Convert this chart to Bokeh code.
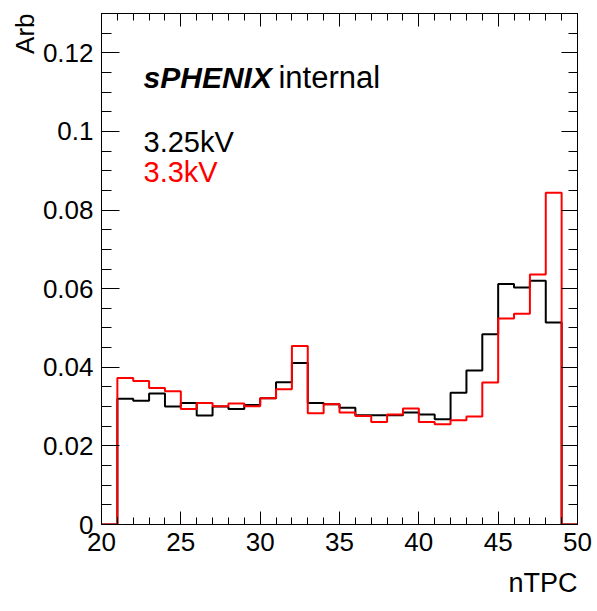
from bokeh.plotting import figure
from bokeh.models import Range1d, LinearAxis, SingleIntervalTicker, Label, Title, CustomJSTickFormatter
from bokeh.embed import file_html
from bokeh.resources import INLINE

# nTPC bin edges (bins 20..49, last entry is the upper edge of the final bin)
bin_edges = [20, 21, 22, 23, 24, 25, 26, 27, 28, 29, 30, 31, 32, 33, 34, 35,
             36, 37, 38, 39, 40, 41, 42, 43, 44, 45, 46, 47, 48, 49, 50]

# Arbitrary-normalised contents of bins 20..49
hv_325 = [0.0, 0.0320, 0.0315, 0.0333, 0.0300, 0.0309, 0.0277, 0.0300, 0.0294, 0.0304,
          0.0321, 0.0362, 0.0411, 0.0309, 0.0306, 0.0297, 0.0278, 0.0278, 0.0278, 0.0285,
          0.0280, 0.0268, 0.0335, 0.0392, 0.0484, 0.0612, 0.0603, 0.0620, 0.0514, 0.0]
hv_330 = [0.0, 0.0373, 0.0365, 0.0347, 0.0339, 0.0294, 0.0309, 0.0301, 0.0308, 0.0301,
          0.0321, 0.0344, 0.0454, 0.0283, 0.0306, 0.0285, 0.0276, 0.0261, 0.0280, 0.0295,
          0.0261, 0.0255, 0.0265, 0.0275, 0.0361, 0.0524, 0.0536, 0.0636, 0.0844, 0.0]

series_names = ["3.25kV", "3.3kV"]
series_colors = ["#000000", "#ff0000"]
x_title = "nTPC"
y_title = "Arb"

FONT = "Liberation Sans"

p = figure(width=597, height=611, output_backend="svg", toolbar_location=None,
           x_range=Range1d(20, 50), y_range=Range1d(0, 0.13),
           x_axis_location=None, y_axis_location=None,
           min_border_left=101, min_border_right=20, min_border_top=13, min_border_bottom=87)
p.xgrid.visible = False
p.ygrid.visible = False
p.outline_line_color = "black"
p.outline_line_width = 1
p.background_fill_color = "white"
p.border_fill_color = "white"

fmt = CustomJSTickFormatter(code="return tick.toFixed(2).replace(/0+$/, '').replace(/\\.$/, '');")
blank = CustomJSTickFormatter(code="return '';")


def style_axis(ax, tick_major, tick_minor, show_labels):
    ax.axis_line_color = "black"
    ax.axis_line_width = 1
    ax.major_tick_in = tick_major
    ax.major_tick_out = 0
    ax.minor_tick_in = tick_minor
    ax.minor_tick_out = 0
    ax.major_tick_line_color = "black"
    ax.minor_tick_line_color = "black"
    ax.major_tick_line_width = 1
    ax.minor_tick_line_width = 1
    if show_labels:
        ax.major_label_text_font = FONT
        ax.major_label_text_font_size = "26px"
        ax.major_label_text_color = "black"
    else:
        ax.formatter = blank
        ax.major_label_text_font_size = "1px"
        ax.major_label_standoff = 0


yl = LinearAxis(ticker=SingleIntervalTicker(interval=0.02, num_minor_ticks=4), formatter=fmt)
style_axis(yl, 18, 10, True)
yl.major_label_standoff = 8
p.add_layout(yl, "left")

yr = LinearAxis(ticker=SingleIntervalTicker(interval=0.02, num_minor_ticks=4))
style_axis(yr, 16, 9, False)
p.add_layout(yr, "right")

xb = LinearAxis(ticker=SingleIntervalTicker(interval=5, num_minor_ticks=5))
style_axis(xb, 13, 7, True)
xb.major_label_standoff = 8
p.add_layout(xb, "below")

xt = LinearAxis(ticker=SingleIntervalTicker(interval=5, num_minor_ticks=5))
style_axis(xt, 13, 7, False)
p.add_layout(xt, "above")

# Axis titles (ROOT style: at the ends of the axes)
p.add_layout(Title(text=x_title, align="right", text_font=FONT, text_font_size="27px",
                   text_font_style="normal", text_color="black", standoff=24), "below")
p.add_layout(Title(text=y_title, align="right", text_font=FONT, text_font_size="26px",
                   text_font_style="normal", text_color="black", standoff=0), "left")

for vals, col in zip([hv_325, hv_330], series_colors):
    p.step(x=bin_edges, y=vals + [vals[-1]], mode="after", line_color=col, line_width=2)

# Texts inside the frame
p.add_layout(Label(x=22.65, y=0.1138, text="sPHENIX", text_font=FONT, text_font_size="30px",
                   text_font_style="bold italic", text_color="black", text_baseline="alphabetic"))
p.add_layout(Label(x=31.15, y=0.1138, text="internal", text_font=FONT, text_font_size="31px",
                   text_color="black", text_baseline="alphabetic"))
p.add_layout(Label(x=22.65, y=0.0973, text=series_names[0], text_font=FONT, text_font_size="29px",
                   text_color=series_colors[0], text_baseline="alphabetic"))
p.add_layout(Label(x=22.65, y=0.0896, text=series_names[1], text_font=FONT, text_font_size="29px",
                   text_color=series_colors[1], text_baseline="alphabetic"))

open("out.html", "w").write(file_html(p, INLINE))
